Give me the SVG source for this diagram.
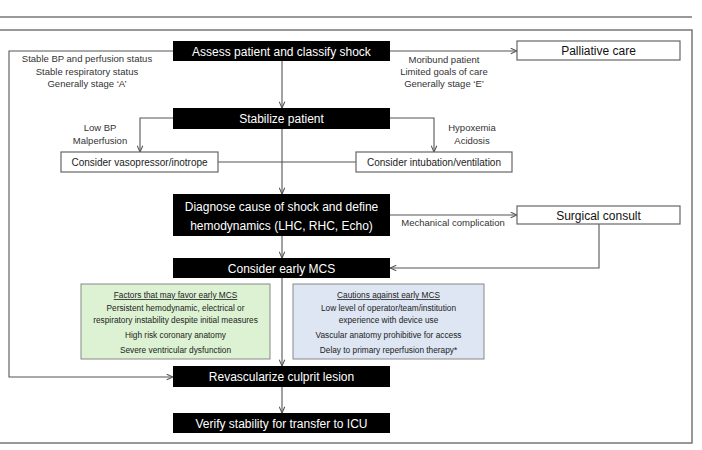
<svg xmlns="http://www.w3.org/2000/svg" width="702" height="450" viewBox="0 0 702 450">
<style>
text{font-family:"Liberation Sans",Arial,sans-serif;text-anchor:middle}
.blk rect{fill:#000}
.blk text{fill:#fff;font-size:12px}
.wht rect{fill:#fff;stroke:#666;stroke-width:1.2}
.big{font-size:12px;fill:#111}
.sm{font-size:10px;fill:#222}
.lbl{font-size:9.5px;fill:#333}
.box text{font-size:8.3px;fill:#222}
.conn path{fill:none;stroke:#555;stroke-width:1.1}
</style>
<defs>
<marker id="arr" viewBox="0 0 10 10" refX="10" refY="5" markerWidth="7" markerHeight="7" markerUnits="userSpaceOnUse" orient="auto">
<path d="M1,1 L10,5 L1,9" fill="none" stroke="#555" stroke-width="1.5"/>
</marker>
</defs>
<rect width="702" height="450" fill="#fff"/>
<line x1="0" y1="17" x2="692" y2="17" stroke="#999" stroke-width="2"/>
<rect x="-3" y="30" width="695" height="413" fill="none" stroke="#777" stroke-width="1.5"/>

<g class="conn">
<path d="M282,61 V108" marker-end="url(#arr)"/>
<path d="M173,51 H9 V377 H173" marker-end="url(#arr)"/>
<path d="M390,51 H517" marker-end="url(#arr)"/>
<path d="M173,118 H140 V152" marker-end="url(#arr)"/>
<path d="M390,118 H434 V152" marker-end="url(#arr)"/>
<path d="M218,162 H356"/>
<path d="M282,129 V194" marker-end="url(#arr)"/>
<path d="M390,215 H517" marker-end="url(#arr)"/>
<path d="M599,224 V268 H390" marker-end="url(#arr)"/>
<path d="M282,236 V258" marker-end="url(#arr)"/>
<path d="M282,278 V366" marker-end="url(#arr)"/>
<path d="M282,387 V413" marker-end="url(#arr)"/>
</g>

<g id="labels">
<text class="lbl" x="87" y="62">Stable BP and perfusion status</text>
<text class="lbl" x="87" y="75">Stable respiratory status</text>
<text class="lbl" x="87" y="87">Generally stage ‘A’</text>
<text class="lbl" x="444" y="63">Moribund patient</text>
<text class="lbl" x="444" y="75">Limited goals of care</text>
<text class="lbl" x="444" y="87">Generally stage ‘E’</text>
<text class="lbl" x="100" y="131">Low BP</text>
<text class="lbl" x="100" y="144">Malperfusion</text>
<text class="lbl" x="472" y="131">Hypoxemia</text>
<text class="lbl" x="472" y="144">Acidosis</text>
<text class="lbl" x="453" y="226">Mechanical complication</text>
</g>

<g id="assess" class="blk"><rect x="173" y="41" width="217" height="20"/><text x="281.5" y="55.5">Assess patient and classify shock</text></g>
<g id="palliative" class="wht"><rect x="517" y="41" width="163" height="19"/><text class="big" x="598.5" y="55">Palliative care</text></g>
<g id="stabilize" class="blk"><rect x="173" y="108" width="217" height="21"/><text x="281.5" y="122.5">Stabilize patient</text></g>
<g id="vasopressor" class="wht"><rect x="61" y="152" width="157" height="20"/><text class="sm" x="139.5" y="165.5">Consider vasopressor/inotrope</text></g>
<g id="intubation" class="wht"><rect x="356" y="152" width="156" height="20"/><text class="sm" x="434" y="165.5">Consider intubation/ventilation</text></g>
<g id="diagnose" class="blk"><rect x="173" y="194" width="217" height="42"/><text x="281.5" y="211">Diagnose cause of shock and define</text><text x="281.5" y="230">hemodynamics (LHC, RHC, Echo)</text></g>
<g id="surgical" class="wht"><rect x="517" y="206" width="163" height="18"/><text class="big" x="598.5" y="219.5">Surgical consult</text></g>
<g id="mcs" class="blk"><rect x="173" y="258" width="217" height="20"/><text x="281.5" y="272.5">Consider early MCS</text></g>
<g id="favor" class="box"><rect x="81" y="284" width="189" height="75" fill="#dcf2d2" stroke="#888" stroke-width="1"/>
<text x="175.5" y="298" text-decoration="underline">Factors that may favor early MCS</text>
<text x="175.5" y="310.5">Persistent hemodynamic, electrical or</text>
<text x="175.5" y="323">respiratory instability despite initial measures</text>
<text x="175.5" y="338">High risk coronary anatomy</text>
<text x="175.5" y="353">Severe ventricular dysfunction</text></g>
<g id="cautions" class="box"><rect x="293" y="284" width="191" height="75" fill="#dde6f2" stroke="#888" stroke-width="1"/>
<text x="388.5" y="298" text-decoration="underline">Cautions against early MCS</text>
<text x="388.5" y="310.5">Low level of operator/team/institution</text>
<text x="388.5" y="323">experience with device use</text>
<text x="388.5" y="338">Vascular anatomy prohibitive for access</text>
<text x="388.5" y="353">Delay to primary reperfusion therapy*</text></g>
<g id="revascularize" class="blk"><rect x="173" y="366" width="217" height="21"/><text x="281.5" y="380.5">Revascularize culprit lesion</text></g>
<g id="verify" class="blk"><rect x="173" y="413" width="217" height="20"/><text x="281.5" y="427.5">Verify stability for transfer to ICU</text></g>
</svg>
